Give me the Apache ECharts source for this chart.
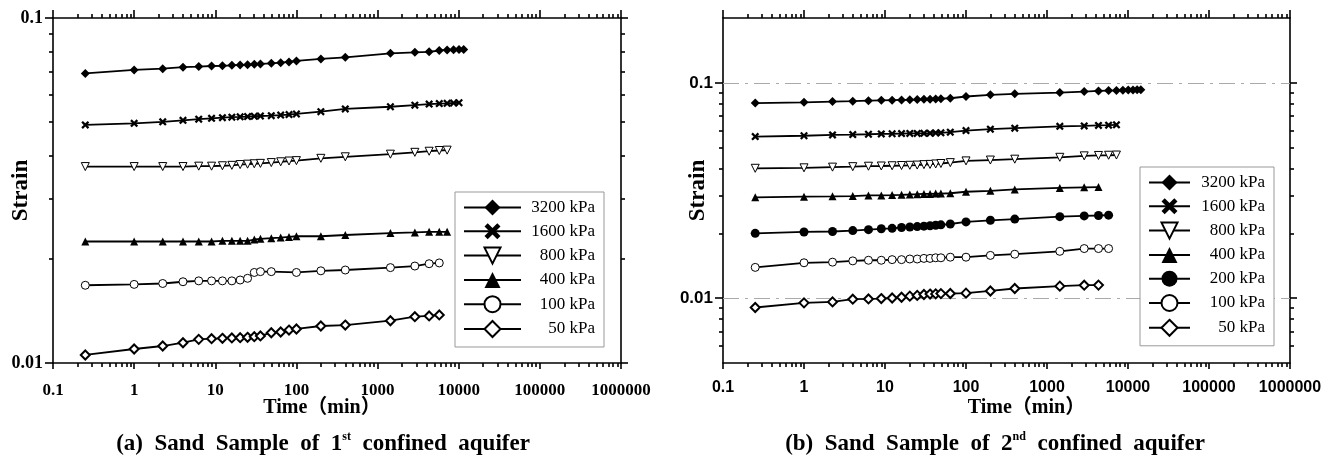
<!DOCTYPE html>
<html>
<head>
<meta charset="utf-8">
<script src="https://cdn.jsdelivr.net/npm/echarts@6/dist/echarts.min.js"></script>
<style>
html, body { margin: 0; padding: 0; background: #fff; }
#chart { width: 1337px; height: 458px; }
</style>
</head>
<body>
<div id="chart"></div>
<script>
// (a) 1st confined aquifer
var timesA = [0.25, 1, 2.25, 4, 6.25, 9, 12.25, 16, 20.25, 25, 30.25, 36, 49, 64, 81, 100, 200, 400, 1440, 2880, 4320, 5760, 7200, 8640, 10080, 11520]
var a3200 = [0.0691, 0.0707, 0.0713, 0.0720, 0.0723, 0.0726, 0.0727, 0.0729, 0.0731, 0.0732, 0.0734, 0.0736, 0.0739, 0.0742, 0.0746, 0.0751, 0.0761, 0.0769, 0.0790, 0.0795, 0.0798, 0.0805, 0.0808, 0.0809, 0.0810, 0.0811]
var a1600 = [0.0490, 0.0495, 0.0500, 0.0505, 0.0509, 0.0512, 0.0514, 0.0516, 0.0517, 0.0518, 0.0519, 0.0520, 0.0521, 0.0523, 0.0525, 0.0527, 0.0535, 0.0545, 0.0553, 0.0559, 0.0563, 0.0565, 0.0566, 0.0567, 0.0568, null]
var a800 = [0.0371, 0.0371, 0.0371, 0.0371, 0.0372, 0.0372, 0.0373, 0.0374, 0.0376, 0.0377, 0.0378, 0.0379, 0.0381, 0.0383, 0.0385, 0.0386, 0.0392, 0.0396, 0.0403, 0.0408, 0.0411, 0.0413, 0.0414, null, null, null]
var a400 = [0.0225, 0.0225, 0.0225, 0.0225, 0.0225, 0.0225, 0.0226, 0.0226, 0.0226, 0.0226, 0.0228, 0.0229, 0.0230, 0.0231, 0.0232, 0.0233, 0.0233, 0.0235, 0.0238, 0.0239, 0.0240, 0.0240, 0.0240, null, null, null]
var a100 = [0.0168, 0.0169, 0.0170, 0.0172, 0.0173, 0.0173, 0.0173, 0.0173, 0.0174, 0.0176, 0.0183, 0.0184, 0.0184, null, null, 0.0183, 0.0185, 0.0186, 0.0189, 0.0191, 0.0194, 0.0195, null, null, null, null]
var a50 = [0.01055, 0.01098, 0.0112, 0.01145, 0.01171, 0.01176, 0.01179, 0.01182, 0.01184, 0.01187, 0.01192, 0.01198, 0.01224, 0.0123, 0.01246, 0.01255, 0.0128, 0.01288, 0.01326, 0.01362, 0.01369, 0.01378, null, null, null, null]

// (b) 2nd confined aquifer
var timesB = [0.25, 1, 2.25, 4, 6.25, 9, 12.25, 16, 20.25, 25, 30.25, 36, 42.25, 49, 64, 100, 200, 400, 1440, 2880, 4320, 5760, 7200, 8640, 10080, 11520, 12960, 14400]
var b3200 = [0.0805, 0.0812, 0.0818, 0.0822, 0.0826, 0.0829, 0.0831, 0.0833, 0.0834, 0.0836, 0.0838, 0.0840, 0.0842, 0.0844, 0.0848, 0.0864, 0.0880, 0.0889, 0.0901, 0.0911, 0.0917, 0.0920, 0.0922, 0.0924, 0.0926, 0.0927, 0.0928, 0.0929]
var b1600 = [0.0563, 0.0568, 0.0573, 0.0575, 0.0577, 0.0579, 0.0580, 0.0581, 0.0582, 0.0582, 0.0583, 0.0584, 0.0585, 0.0586, 0.0590, 0.0600, 0.0609, 0.0616, 0.0628, 0.0631, 0.0634, 0.0636, 0.0638, null, null, null, null, null]
var b800 = [0.0401, 0.0403, 0.0406, 0.0408, 0.0410, 0.0411, 0.0412, 0.0413, 0.0414, 0.0415, 0.0417, 0.0418, 0.0420, 0.0422, 0.0426, 0.0434, 0.0438, 0.0442, 0.0451, 0.0458, 0.0460, 0.0461, 0.0462, null, null, null, null, null]
var b400 = [0.0294, 0.0296, 0.0297, 0.0298, 0.0300, 0.0300, 0.0301, 0.0302, 0.0303, 0.0304, 0.0305, 0.0305, 0.0306, 0.0306, 0.0307, 0.0312, 0.0315, 0.0320, 0.0325, 0.0327, 0.0328, null, null, null, null, null, null, null]
var b200 = [0.0200, 0.0203, 0.0204, 0.0206, 0.0208, 0.0210, 0.0211, 0.0213, 0.0214, 0.0215, 0.0216, 0.0217, 0.0218, 0.0219, 0.0221, 0.0226, 0.0230, 0.0233, 0.0239, 0.0241, 0.0242, 0.0243, null, null, null, null, null, null]
var b100 = [0.0139, 0.0146, 0.0147, 0.0149, 0.0150, 0.0150, 0.0151, 0.0151, 0.0152, 0.0152, 0.0153, 0.0153, 0.0154, 0.0154, 0.0155, 0.0155, 0.0158, 0.0160, 0.0165, 0.0170, 0.0170, 0.0170, null, null, null, null, null, null]
var b50 = [0.00905, 0.00951, 0.00961, 0.00989, 0.00992, 0.00996, 0.01002, 0.01010, 0.01022, 0.01030, 0.01040, 0.01045, 0.01047, 0.01050, 0.01051, 0.01055, 0.0108, 0.01109, 0.01137, 0.01149, 0.01150, null, null, null, null, null, null, null]

var xTicks = [0.1, 1, 10, 100, 1000, 10000, 100000, 1000000]
var yTicksA = [0.01, 0.1]
var yTicksB = [0.01, 0.1]
var refLinesB = [0.1, 0.01]
var namesA = ['3200 kPa', '1600 kPa', '800 kPa', '400 kPa', '100 kPa', '50 kPa']
var namesB = ['3200 kPa', '1600 kPa', '800 kPa', '400 kPa', '200 kPa', '100 kPa', '50 kPa']

// minor ticks 2..9 of each decade
function minorOf (lo, hi) {
  var out = []
  for (var d = lo; d < hi; d *= 10) {
    for (var k = 2; k <= 9; k++) {
      var v = +(k * d).toPrecision(6)
      if (v > lo && v < hi) out.push(v)
    }
  }
  return out
}
var xMinor = minorOf(0.1, 1000000)
var yMinorA = minorOf(0.01, 0.1)
var yMinorB = minorOf(0.001, 0.1).filter(function (v) { return v > 0.005 })

function pairs (times, vals) {
  var out = []
  for (var i = 0; i < times.length; i++) {
    if (vals[i] != null) out.push([times[i], vals[i]])
  }
  return out
}

var SERIF = '"Liberation Serif", "Times New Roman", "Noto Sans CJK SC", serif'
var SANS = '"Liberation Sans", Arial, sans-serif'
var AX = { color: '#000', width: 1.6 }
function fmt (v) { return String(+(+v).toPrecision(6)) }

// g: grid index, f: label font, lm: label margin, pad: name padding (shifts the name sideways)
function xAxes (g, f, fs, lm, pad) {
  var base = { type: 'log', gridIndex: g, min: 0.1, max: 1000000, splitLine: { show: false }, minorTick: { show: false } }
  return [
    Object.assign({}, base, {
      position: 'bottom',
      axisLine: { show: true, onZero: false, lineStyle: AX },
      axisTick: { show: true, length: 6, customValues: xTicks, lineStyle: AX },
      axisLabel: { show: true, customValues: xTicks, formatter: fmt, fontFamily: f, fontWeight: 'bold', fontSize: fs, color: '#000', margin: lm },
      name: 'Time（min）', nameLocation: 'middle', nameGap: 35, nameMoveOverlap: false,
      nameTextStyle: { fontFamily: SERIF, fontWeight: 'bold', fontSize: 20, color: '#000', padding: pad }
    }),
    Object.assign({}, base, {
      position: 'bottom',
      axisLine: { show: false },
      axisTick: { show: true, length: 4, customValues: xMinor, lineStyle: AX },
      axisLabel: { show: false }
    }),
    Object.assign({}, base, {
      position: 'top',
      axisLine: { show: true, onZero: false, lineStyle: AX },
      axisTick: { show: true, length: 8, customValues: xTicks, lineStyle: AX },
      axisLabel: { show: false }
    }),
    Object.assign({}, base, {
      position: 'top',
      axisLine: { show: false },
      axisTick: { show: true, length: 4, customValues: xMinor, lineStyle: AX },
      axisLabel: { show: false }
    })
  ]
}

function yAxes (g, min, max, major, minor, f, fs, gap) {
  var base = { type: 'log', gridIndex: g, min: min, max: max, splitLine: { show: false }, minorTick: { show: false } }
  return [
    Object.assign({}, base, {
      position: 'left',
      axisLine: { show: true, onZero: false, lineStyle: AX },
      axisTick: { show: true, length: 8, customValues: major, lineStyle: AX },
      axisLabel: { show: true, customValues: major, formatter: fmt, fontFamily: f, fontWeight: 'bold', fontSize: fs, color: '#000', margin: 10 },
      name: 'Strain', nameLocation: 'middle', nameGap: gap, nameRotate: 90, nameMoveOverlap: false,
      nameTextStyle: { fontFamily: SERIF, fontWeight: 'bold', fontSize: 23, color: '#000' }
    }),
    Object.assign({}, base, {
      position: 'left',
      axisLine: { show: false },
      axisTick: { show: true, length: 4, customValues: minor, lineStyle: AX },
      axisLabel: { show: false }
    }),
    Object.assign({}, base, {
      position: 'right',
      axisLine: { show: true, onZero: false, lineStyle: AX },
      axisTick: { show: true, length: 7, customValues: major, lineStyle: AX },
      axisLabel: { show: false }
    }),
    Object.assign({}, base, {
      position: 'right',
      axisLine: { show: false },
      axisTick: { show: true, length: 4, customValues: minor, lineStyle: AX },
      axisLabel: { show: false }
    })
  ]
}

var crossPath = 'path://M0,2 L2,0 L5,3 L8,0 L10,2 L7,5 L10,8 L8,10 L5,7 L2,10 L0,8 L3,5 Z'
var styles = {
  '3200 kPa': { symbol: 'diamond', symbolSize: 9, itemStyle: { color: '#000' } },
  '1600 kPa': { symbol: crossPath, symbolSize: 8, itemStyle: { color: '#000' } },
  '800 kPa': { symbol: 'triangle', symbolSize: 8, symbolRotate: 180, itemStyle: { color: '#fff', borderColor: '#000', borderWidth: 1 } },
  '400 kPa': { symbol: 'triangle', symbolSize: 8, itemStyle: { color: '#000' } },
  '200 kPa': { symbol: 'circle', symbolSize: 9, itemStyle: { color: '#000' } },
  '100 kPa': { symbol: 'circle', symbolSize: 8, itemStyle: { color: '#fff', borderColor: '#000', borderWidth: 1 } },
  '50 kPa': { symbol: 'diamond', symbolSize: 9, itemStyle: { color: '#fff', borderColor: '#000', borderWidth: 2 } }
}

function makeSeries (name, times, vals, g) {
  var st = styles[name]
  return {
    type: 'line', name: name,
    xAxisIndex: g * 4, yAxisIndex: g * 4,
    data: pairs(times, vals),
    connectNulls: true,
    symbol: st.symbol, symbolSize: st.symbolSize, symbolRotate: st.symbolRotate || 0,
    showAllSymbol: true,
    lineStyle: { color: '#000', width: 1.8 },
    itemStyle: st.itemStyle,
    emphasis: { disabled: true },
    z: 3
  }
}

var seriesA = [a3200, a1600, a800, a400, a100, a50].map(function (v, i) { return makeSeries(namesA[i], timesA, v, 0) })
var seriesB = [b3200, b1600, b800, b400, b200, b100, b50].map(function (v, i) { return makeSeries(namesB[i], timesB, v, 1) })
seriesB[0].markLine = {
  silent: true, symbol: 'none', label: { show: false }, z: 1,
  lineStyle: { color: '#aaa', width: 1, type: [16, 6, 3, 6] },
  data: refLinesB.map(function (v) { return { yAxis: v } })
}

function legendFor (names, left, top, iconW, textW) {
  return {
    orient: 'vertical', left: left, top: top, z: 20,
    data: names, selectedMode: false,
    itemWidth: iconW, itemHeight: 20, itemGap: 6.8,
    padding: [7, 9, 9, 8],
    backgroundColor: '#fff', borderColor: '#999', borderWidth: 1,
    formatter: function (n) { return '{r|' + n + '}' },
    textStyle: {
      rich: { r: { width: textW, align: 'right', fontFamily: SERIF, fontSize: 17, color: '#000', lineHeight: 20 } }
    }
  }
}

var caption = function (x, letter, num, sup) {
  return {
    type: 'text', x: x, y: 444,
    style: {
      text: '(' + letter + ')  Sand  Sample  of  ' + num + '{s|' + sup + '}  confined  aquifer',
      align: 'center', verticalAlign: 'middle',
      fontFamily: SERIF, fontWeight: 'bold', fontSize: 23, fill: '#000',
      rich: { s: { fontFamily: SERIF, fontWeight: 'bold', fontSize: 12, verticalAlign: 'top', lineHeight: 26 } }
    }
  }
}

var chart = echarts.init(document.getElementById('chart'))
chart.setOption({
  animation: false,
  backgroundColor: '#fff',
  grid: [
    { left: 53, top: 18, width: 568, height: 345, outerBoundsMode: 'none' },
    { left: 723, top: 18, width: 567, height: 345, outerBoundsMode: 'none' }
  ],
  xAxis: xAxes(0, SERIF, 17, 19, [0, 30, 0, 0]).concat(xAxes(1, SANS, 16, 17, [0, 0, 0, 40])),
  yAxis: yAxes(0, 0.01, 0.1, yTicksA, yMinorA, SERIF, 18, 20).concat(yAxes(1, 0.005, 0.2, yTicksB, yMinorB, SANS, 17, 13)),
  legend: [legendFor(namesA, 455, 192, 57, 69), legendFor(namesB, 1140, 167, 41, 70)],
  series: seriesA.concat(seriesB),
  graphic: [caption(323, 'a', '1', 'st'), caption(995, 'b', '2', 'nd')]
})
</script>
</body>
</html>
